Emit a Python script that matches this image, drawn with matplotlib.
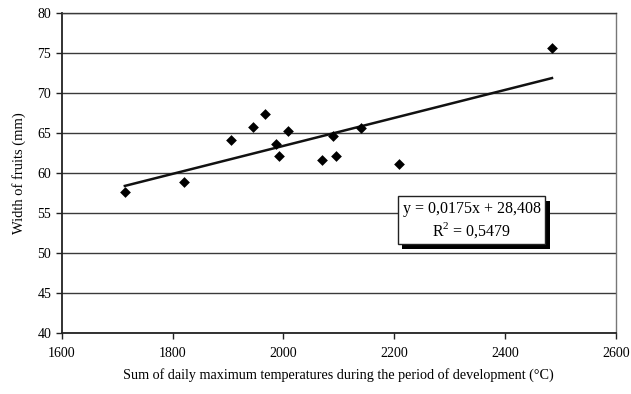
import matplotlib
matplotlib.use("Agg")
import matplotlib.pyplot as plt
import matplotlib.patheffects as pe
import numpy as np

temp_sum = [1714, 1820, 1905, 1945, 1967, 1987, 1992, 2008, 2070, 2090, 2095, 2140, 2209, 2485]
fruit_width = [57.7, 58.9, 64.1, 65.8, 67.4, 63.7, 62.2, 65.3, 61.7, 64.6, 62.2, 65.6, 61.1, 75.7]
slope = 0.0175
intercept = 28.408
eq_text = "y = 0,0175x + 28,408\nR$^2$ = 0,5479"
x_ticks = [1600, 1800, 2000, 2200, 2400, 2600]
y_ticks = [40, 45, 50, 55, 60, 65, 70, 75, 80]

plt.rcParams['font.family'] = ['Liberation Serif', 'DejaVu Serif']
plt.rcParams['mathtext.fontset'] = 'custom'
plt.rcParams['mathtext.rm'] = 'Liberation Serif'

fig = plt.figure(figsize=(6.31, 3.94), dpi=100)
ax = fig.add_axes([61.7/631, 1 - 333/394, (615.7-61.7)/631, (333-13.3)/394])

ax.set_xlim(1600, 2600)
ax.set_ylim(40, 80)
ax.set_xticks(x_ticks)
ax.set_yticks(y_ticks)
ax.yaxis.grid(True, color='#3a3a3a', linewidth=1.0)
ax.set_axisbelow(True)

for s in ['left', 'bottom']:
    ax.spines[s].set_color('#222222')
    ax.spines[s].set_linewidth(1.3)
ax.spines['right'].set_color('#777777')
ax.spines['right'].set_linewidth(1.0)
ax.spines['top'].set_color('#3a3a3a')
ax.spines['top'].set_linewidth(1.0)

ax.tick_params(axis='both', direction='out', length=4, width=1.0, labelsize=10, color='#222222')
ax.tick_params(axis='x', pad=6)

ax.scatter(temp_sum, fruit_width, marker='D', s=30, color='black', zorder=3, linewidths=0)

xs = np.array([min(temp_sum), max(temp_sum)])
ax.plot(xs, slope * xs + intercept, color='#111111', linewidth=1.8, zorder=2)

ax.set_xlabel("Sum of daily maximum temperatures during the period of development (°C)", fontsize=10.2, labelpad=6)
ax.set_ylabel("Width of fruits (mm)", fontsize=10.5, labelpad=8)

t = ax.text(2340, 54.1, eq_text, ha='center', va='center', fontsize=11.5, color='black',
            linespacing=1.2, zorder=5,
            bbox=dict(boxstyle='square,pad=0.3', facecolor='white', edgecolor='#222222', linewidth=1.0))
t.get_bbox_patch().set_path_effects([
    pe.SimplePatchShadow(offset=(3, -3), shadow_rgbFace='black', alpha=1.0),
    pe.Normal(),
])

fig.savefig("out.png", dpi=100)
